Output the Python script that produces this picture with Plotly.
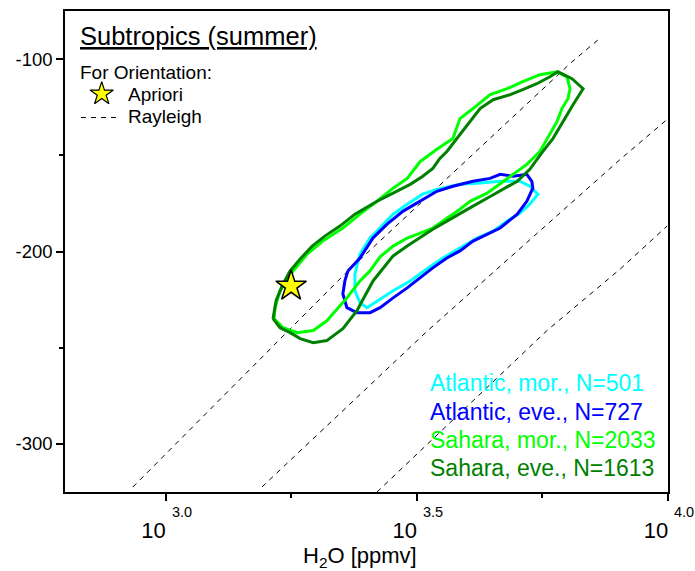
import numpy as np
import plotly.graph_objects as go

FONT = "Liberation Sans, Arial, sans-serif"

# Contours of the retrieved pairs: log10(H2O / ppmv) and deltaD (permil)
atl_mor_lgq = [3.421, 3.453, 3.481, 3.512, 3.540, 3.586, 3.620, 3.666, 3.705, 3.725,
               3.741, 3.725, 3.705, 3.680, 3.652, 3.620, 3.586, 3.552, 3.520, 3.487,
               3.453, 3.421, 3.401, 3.387, 3.377, 3.377, 3.387, 3.407]
atl_mor_dd = [-189.4, -180.6, -175.4, -170.2, -167.7, -165.1, -164.5, -163.5, -163.5, -166.1,
              -170.2, -175.4, -180.1, -184.2, -189.4, -193.0, -198.2, -203.4, -209.1, -215.3,
              -220.4, -225.6, -229.2, -226.7, -220.4, -211.6, -201.3, -193.0]

atl_eve_lgq = [3.363, 3.387, 3.413, 3.441, 3.473, 3.507, 3.540, 3.572, 3.612, 3.646,
               3.666, 3.692, 3.719, 3.729, 3.731, 3.719, 3.700, 3.666, 3.640, 3.612,
               3.586, 3.560, 3.532, 3.507, 3.481, 3.453, 3.427, 3.407, 3.381, 3.361,
               3.353, 3.357]
atl_eve_dd = [-210.1, -203.4, -193.0, -185.8, -179.0, -173.9, -168.7, -166.1, -163.5, -162.0,
              -159.9, -160.9, -159.9, -163.5, -167.1, -173.9, -180.6, -187.8, -190.9, -194.6,
              -199.7, -203.4, -208.5, -213.7, -218.9, -224.1, -229.2, -231.8, -231.8, -229.2,
              -222.0, -215.3]

sah_mor_lgq = [3.218, 3.228, 3.254, 3.282, 3.313, 3.353, 3.387, 3.421, 3.453, 3.481,
               3.507, 3.540, 3.572, 3.586, 3.612, 3.646, 3.680, 3.711, 3.745, 3.779,
               3.799, 3.805, 3.801, 3.789, 3.779, 3.765, 3.745, 3.719, 3.692, 3.666,
               3.640, 3.606, 3.586, 3.560, 3.532, 3.507, 3.481, 3.453, 3.427, 3.407,
               3.387, 3.361, 3.321, 3.294, 3.262, 3.234, 3.216]
sah_mor_dd = [-229.2, -220.4, -210.1, -201.3, -194.6, -187.8, -180.6, -173.9, -167.1, -162.0,
              -153.2, -146.9, -141.3, -130.9, -125.7, -118.5, -115.4, -111.7, -108.1, -106.6,
              -109.2, -115.4, -120.5, -125.7, -132.5, -139.2, -148.0, -154.7, -159.9, -165.1,
              -169.7, -173.9, -178.0, -182.7, -187.8, -190.4, -193.0, -197.2, -202.8, -210.1,
              -215.3, -224.1, -236.0, -241.1, -242.2, -239.6, -234.9]

sah_eve_lgq = [3.214, 3.220, 3.232, 3.248, 3.268, 3.292, 3.317, 3.347, 3.377, 3.421,
               3.453, 3.487, 3.512, 3.532, 3.546, 3.560, 3.586, 3.606, 3.626, 3.652,
               3.686, 3.711, 3.739, 3.765, 3.781, 3.809, 3.831, 3.811, 3.791, 3.771,
               3.751, 3.725, 3.700, 3.666, 3.640, 3.612, 3.586, 3.560, 3.532, 3.507,
               3.481, 3.453, 3.437, 3.413, 3.397, 3.381, 3.353, 3.321, 3.294, 3.268,
               3.248, 3.228]
sah_eve_dd = [-234.9, -225.6, -217.9, -210.1, -203.9, -197.2, -192.0, -186.8, -180.6, -173.9,
              -169.7, -165.1, -160.9, -156.8, -151.6, -148.0, -139.2, -132.5, -125.7, -121.1,
              -118.5, -115.9, -112.8, -109.2, -106.6, -110.2, -115.4, -123.7, -132.5, -141.3,
              -148.0, -157.3, -163.5, -168.7, -172.3, -176.4, -180.1, -184.2, -188.4, -192.5,
              -197.2, -202.3, -207.5, -215.3, -223.0, -230.8, -240.1, -246.3, -247.4, -245.3,
              -242.2, -239.6]

series_labels = ["Atlantic, mor., N=501", "Atlantic, eve., N=727",
                 "Sahara, mor., N=2033", "Sahara, eve., N=1613"]
series_colors = ["#00FFFF", "#0000FF", "#00FF00", "#008000"]

# A-priori state
apriori_lgq = [3.25]
apriori_dd = [-218.0]

# Rayleigh distillation curves
rayleigh_lgq = [
    [2.935, 3.212, 3.363, 3.809, 3.863],
    [3.192, 3.522, 3.905, 3.998],
    [3.421, 3.759, 3.905, 3.998],
]
rayleigh_dd = [
    [-322.4, -250.0, -210.1, -101.4, -89.5],
    [-322.4, -241.1, -152.1, -131.4],
    [-325.0, -241.1, -209.1, -186.8],
]

x_tick_exp = [3.0, 3.5, 4.0]
y_ticks = [-300, -200, -100]

fig = go.Figure()

for lgq, dd in zip(rayleigh_lgq, rayleigh_dd):
    fig.add_trace(go.Scatter(
        x=10 ** np.array(lgq), y=dd, mode="lines",
        line=dict(color="black", width=1, dash="5px,5px"),
        hoverinfo="skip", showlegend=False))

contours = [(atl_mor_lgq, atl_mor_dd), (atl_eve_lgq, atl_eve_dd),
            (sah_mor_lgq, sah_mor_dd), (sah_eve_lgq, sah_eve_dd)]
for (lgq, dd), col, lab in zip(contours, series_colors, series_labels):
    xs = 10 ** np.array(list(lgq) + [lgq[0]])
    ys = list(dd) + [dd[0]]
    fig.add_trace(go.Scatter(x=xs, y=ys, mode="lines", name=lab,
                             line=dict(color=col, width=3),
                             showlegend=False))

fig.add_trace(go.Scatter(
    x=10 ** np.array(apriori_lgq), y=apriori_dd, mode="markers", name="Apriori",
    marker=dict(symbol="star", size=23, color="#FFFF00",
                line=dict(color="black", width=1.5)),
    showlegend=False))

# key glyph for the orientation box (drawn on a hidden unit overlay)
fig.add_trace(go.Scatter(
    x=[0.0609], y=[0.8277], xaxis="x2", yaxis="y2", mode="markers",
    marker=dict(symbol="star", size=17.5, color="#FFFF00",
                line=dict(color="black", width=1.2)),
    hoverinfo="skip", showlegend=False, cliponaxis=False))

annotations = [
    dict(text="<u>Subtropics (summer)</u>", x=0.0249, y=0.949, size=25.5, color="black"),
    dict(text="For Orientation:", x=0.0249, y=0.8716, size=19, color="black"),
    dict(text="Apriori", x=0.1045, y=0.826, size=19, color="black"),
    dict(text="Rayleigh", x=0.1045, y=0.7805, size=19, color="black"),
]
for lab, col, yy in zip(series_labels, series_colors, [0.2257, 0.1656, 0.1077, 0.0497]):
    annotations.append(dict(text=lab, x=0.6053, y=yy, size=23, color=col))

ann_objs = [dict(text=a["text"], x=a["x"], y=a["y"], xref="paper", yref="paper",
                 xanchor="left", yanchor="middle", xshift=-2, showarrow=False,
                 font=dict(family=FONT, size=a["size"], color=a["color"]))
            for a in annotations]
# decade exponents raised well above the "10" of each tick label
for e in x_tick_exp:
    ann_objs.append(dict(text="%.1f" % e, x=e, y=-0.0414, xref="x", yref="paper",
                         xanchor="left", yanchor="middle", xshift=4, showarrow=False,
                         font=dict(family=FONT, size=14.5, color="black")))
ann_objs.append(dict(text="H<sub>2</sub>O [ppmv]", x=0.489, y=-0.135, xref="paper",
                     yref="paper", xanchor="center", yanchor="middle", showarrow=False,
                     font=dict(family=FONT, size=22, color="black")))

fig.update_layout(
    annotations=ann_objs,
    shapes=[dict(type="line", xref="paper", yref="paper", x0=0.0265, x1=0.0862,
                 y0=0.7785, y1=0.7785, line=dict(color="black", width=1, dash="5px,5px"))],
    width=695, height=571,
    margin=dict(l=65, r=27, t=9, b=79),
    plot_bgcolor="white", paper_bgcolor="white",
    font=dict(family=FONT, color="black"),
    showlegend=False,
    xaxis=dict(
        type="log", range=[2.8, 4.0],
        tickvals=[10 ** e for e in x_tick_exp],
        ticktext=["10" for _ in x_tick_exp],
        tickfont=dict(size=22),
        ticklabelshift=-12, ticklabelstandoff=11,
        ticks="outside", ticklen=7, tickwidth=1.5, tickcolor="black",
        minor=dict(tickmode="array", tickvals=[10 ** 3.25, 10 ** 3.75],
                   ticks="outside", ticklen=4, tickwidth=1.5, tickcolor="black",
                   showgrid=False),
        showline=True, linecolor="black", linewidth=1.5, mirror=True,
        showgrid=False, zeroline=False),
    yaxis=dict(
        range=[-325, -75],
        tickvals=y_ticks, ticktext=[str(v) for v in y_ticks],
        tickfont=dict(size=18.5),
        ticks="outside", ticklen=7, tickwidth=1.5, tickcolor="black",
        minor=dict(tickmode="array", tickvals=[-250, -150],
                   ticks="outside", ticklen=4, tickwidth=1.5, tickcolor="black",
                   showgrid=False),
        showline=True, linecolor="black", linewidth=1.5, mirror=True,
        showgrid=False, zeroline=False),
    xaxis2=dict(overlaying="x", range=[0, 1], visible=False),
    yaxis2=dict(overlaying="y", range=[0, 1], visible=False),
)

fig.write_html("out.html")
